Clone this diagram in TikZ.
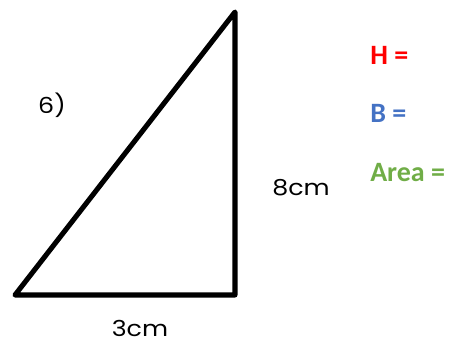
\documentclass[tikz,border=0pt]{standalone}
\usepackage{fontspec}
\setmainfont{Carlito}
\newfontfamily\geo[FakeStretch=1.15]{Poppins}
\definecolor{hred}{HTML}{FF0000}
\definecolor{bblue}{HTML}{4472C4}
\definecolor{agreen}{HTML}{70AD47}
\tikzset{
  side/.style={line width=3.8pt, line join=round, line cap=round},
  measure/.style={font=\geo\fontsize{16.5}{18}\selectfont, inner sep=0pt},
  answer/.style={font=\bfseries\fontsize{21}{24}\selectfont, anchor=west, inner sep=0pt}
}
\begin{document}
\begin{tikzpicture}[x=0.75pt,y=-0.75pt]
\useasboundingbox (0,0) rectangle (457,342);
\coordinate (A) at (15,295);
\coordinate (C) at (235,295);
\coordinate (T) at (235,12);
\draw[side] (A) -- (C) -- (T) -- cycle;
\node[measure] (n6) at (52,105) {6)};
\node[measure] (h) at (301,188) {8cm};
\node[measure] (b) at (140,328) {3cm};
\node[answer, text=hred] (H) at (370,55) {H =};
\node[answer, text=bblue] (B) at (370,113) {B =};
\node[answer, text=agreen] (Ar) at (370,173) {Area =};
\end{tikzpicture}
\end{document}
